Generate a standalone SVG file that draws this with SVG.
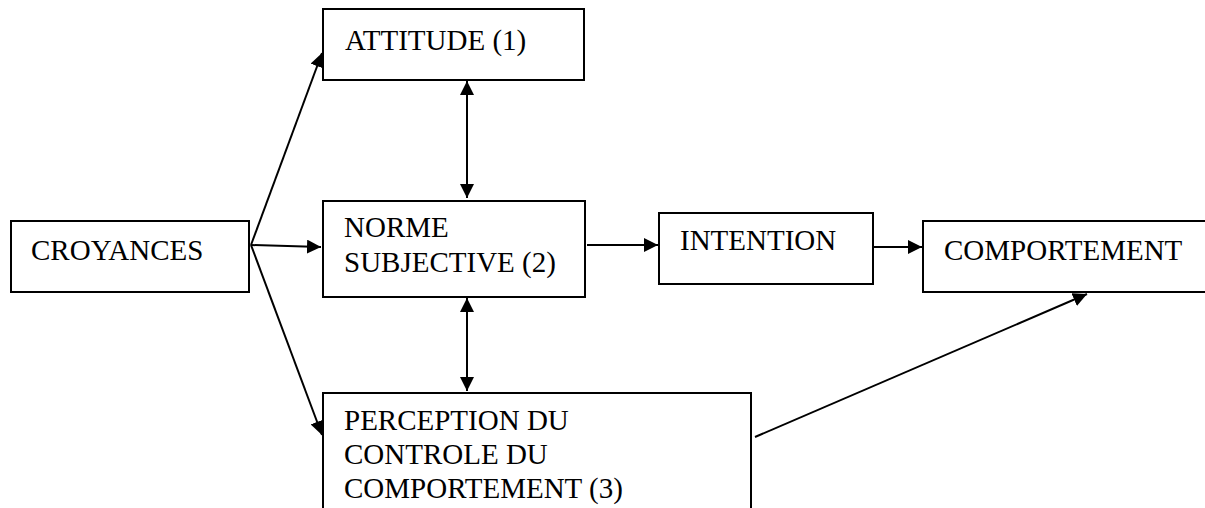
<svg xmlns="http://www.w3.org/2000/svg" width="1205" height="508" viewBox="0 0 1205 508">
  <style>
    .box { fill: #ffffff; stroke: #000000; stroke-width: 2; }
    .lbl { font-family: "Liberation Serif", "Times New Roman", serif; font-size: 29px; fill: #000000; }
    .conn { stroke: #000000; stroke-width: 2; fill: none; }
  </style>
  <defs>
    <marker id="arr" viewBox="0 0 14 14" refX="14" refY="7" markerWidth="14" markerHeight="14" markerUnits="userSpaceOnUse" orient="auto-start-reverse">
      <path d="M0,0 L14,7 L0,14 z" fill="#000000"/>
    </marker>
  </defs>
  <rect width="1205" height="508" fill="#ffffff"/>

  <g id="croyances">
    <rect class="box" x="11" y="221" width="238" height="71"/>
    <text class="lbl" x="31" y="260">CROYANCES</text>
  </g>
  <g id="attitude">
    <rect class="box" x="323" y="9" width="261" height="71"/>
    <text class="lbl" x="345" y="50">ATTITUDE (1)</text>
  </g>
  <g id="norme">
    <rect class="box" x="323" y="201" width="262" height="96"/>
    <text class="lbl" x="344" y="237">NORME</text>
    <text class="lbl" x="344" y="272">SUBJECTIVE (2)</text>
  </g>
  <g id="intention">
    <rect class="box" x="659" y="213" width="214" height="71"/>
    <text class="lbl" x="680" y="250">INTENTION</text>
  </g>
  <g id="comportement">
    <rect class="box" x="923" y="221" width="300" height="71"/>
    <text class="lbl" x="944" y="260">COMPORTEMENT</text>
  </g>
  <g id="perception">
    <rect class="box" x="323" y="393" width="428" height="130"/>
    <text class="lbl" x="344" y="430">PERCEPTION DU</text>
    <text class="lbl" x="344" y="464">CONTROLE DU</text>
    <text class="lbl" x="344" y="498">COMPORTEMENT (3)</text>
  </g>

  <g id="connectors">
    <line class="conn" x1="251" y1="245" x2="322" y2="53" marker-end="url(#arr)"/>
    <line class="conn" x1="251" y1="245" x2="321" y2="247" marker-end="url(#arr)"/>
    <line class="conn" x1="251" y1="245" x2="322" y2="435" marker-end="url(#arr)"/>
    <line class="conn" x1="467" y1="81" x2="467" y2="198" marker-start="url(#arr)" marker-end="url(#arr)"/>
    <line class="conn" x1="467" y1="298" x2="467" y2="391" marker-start="url(#arr)" marker-end="url(#arr)"/>
    <line class="conn" x1="587" y1="245" x2="658" y2="245" marker-end="url(#arr)"/>
    <line class="conn" x1="874" y1="247" x2="922" y2="247" marker-end="url(#arr)"/>
    <line class="conn" x1="755" y1="437" x2="1087" y2="294" marker-end="url(#arr)"/>
  </g>
</svg>
